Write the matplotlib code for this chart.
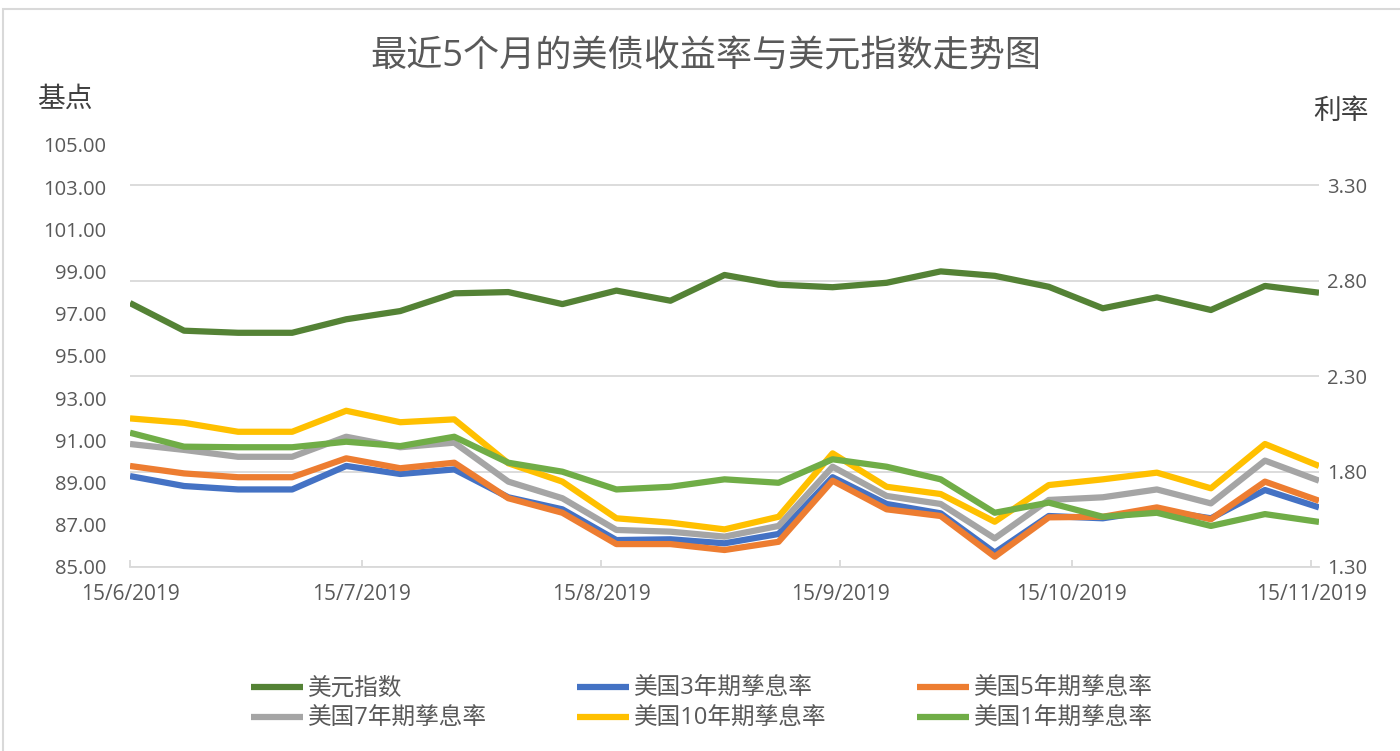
import matplotlib
matplotlib.use("Agg")
import matplotlib.pyplot as plt
import matplotlib.dates as mdates
from matplotlib.patches import Rectangle
from matplotlib.ticker import FuncFormatter
import pandas as pd

plt.rcParams["font.family"] = ["Open Sans", "Noto Sans CJK SC", "DejaVu Sans"]

# Data (weekly)
dates = pd.date_range("2019-06-15", periods=23, freq="7D")

usd_index = [97.51, 96.20, 96.10, 96.10, 96.74, 97.13, 97.97, 98.03, 97.46, 98.10,
             97.62, 98.84, 98.38, 98.26, 98.47, 99.01, 98.80, 98.28, 97.26, 97.78,
             97.18, 98.32, 98.00]
y3 = [1.776, 1.724, 1.706, 1.706, 1.829, 1.787, 1.811, 1.665, 1.602, 1.441,
      1.445, 1.424, 1.473, 1.770, 1.630, 1.581, 1.375, 1.567, 1.555, 1.598,
      1.555, 1.703, 1.612]
y5 = [1.829, 1.790, 1.770, 1.770, 1.869, 1.817, 1.846, 1.660, 1.584, 1.420,
      1.420, 1.389, 1.432, 1.752, 1.602, 1.567, 1.354, 1.560, 1.563, 1.612,
      1.550, 1.747, 1.647]
y7 = [1.944, 1.913, 1.877, 1.877, 1.982, 1.927, 1.951, 1.747, 1.660, 1.494,
      1.485, 1.459, 1.515, 1.825, 1.672, 1.630, 1.450, 1.651, 1.665, 1.706,
      1.633, 1.857, 1.752]
y10 = [2.078, 2.055, 2.008, 2.008, 2.118, 2.058, 2.073, 1.843, 1.747, 1.555,
       1.532, 1.497, 1.563, 1.895, 1.720, 1.682, 1.537, 1.729, 1.759, 1.794,
       1.712, 1.944, 1.829]
y1 = [2.003, 1.930, 1.927, 1.927, 1.956, 1.933, 1.982, 1.846, 1.799, 1.706,
      1.720, 1.759, 1.741, 1.864, 1.825, 1.759, 1.584, 1.637, 1.563, 1.584,
      1.515, 1.577, 1.536]

tick_dates = pd.to_datetime(["2019-06-15", "2019-07-15", "2019-08-15",
                             "2019-09-15", "2019-10-15", "2019-11-15"])

yield_series = [
    ("美国3年期孳息率", y3, "#4472C4"),
    ("美国5年期孳息率", y5, "#ED7D31"),
    ("美国7年期孳息率", y7, "#A5A5A5"),
    ("美国10年期孳息率", y10, "#FFC000"),
    ("美国1年期孳息率", y1, "#70AD47"),
]

text_color = "#595959"
grid_color = "#d9d9d9"
lw = 4.5

fig = plt.figure(figsize=(14, 7.51), dpi=100)
ax = fig.add_axes([130 / 1400, 184 / 751, 1189 / 1400, 422 / 751])
ax2 = ax.twinx()

# dollar index on the left axis
usd_line, = ax.plot(dates, usd_index, color="#548235", lw=lw,
                    solid_joinstyle="round", solid_capstyle="butt", label="美元指数")

handles = {}
for name, vals, col in yield_series:
    ln, = ax2.plot(dates, vals, color=col, lw=lw, solid_joinstyle="round",
                   solid_capstyle="butt", label=name)
    handles[name] = ln

# keep the dollar line above the secondary grid
ax.set_zorder(ax2.get_zorder() + 1)
ax.patch.set_visible(False)

ax.set_xlim(pd.Timestamp("2019-06-15"), pd.Timestamp("2019-11-16"))
ax.set_ylim(85, 105)
ax.set_yticks(range(85, 106, 2))
ax.yaxis.set_major_formatter(FuncFormatter(lambda v, p: f"{v:.2f}"))

ax2.set_ylim(1.30, 1.30 + 422 / 191)
ax2.set_yticks([1.30, 1.80, 2.30, 2.80, 3.30])
ax2.yaxis.set_major_formatter(FuncFormatter(lambda v, p: f"{v:.2f}"))
ax2.grid(axis="y", color=grid_color, lw=1.3)

ax.set_xticks(tick_dates)
ax.xaxis.set_major_formatter(
    FuncFormatter(lambda v, p: "{0.day}/{0.month}/{0.year}".format(mdates.num2date(v))))

for a in (ax, ax2):
    for s in a.spines.values():
        s.set_visible(False)
ax.spines["bottom"].set_visible(True)
ax.spines["bottom"].set_color(grid_color)
ax.spines["bottom"].set_linewidth(1.3)

ax.tick_params(axis="x", direction="in", length=5, color=grid_color, width=1.3,
               pad=12, labelsize=15, labelcolor=text_color)
ax.tick_params(axis="y", length=0, pad=17, labelsize=14.5, labelcolor=text_color)
ax2.tick_params(axis="y", length=0, pad=6, labelsize=14.5, labelcolor=text_color)
ax2.tick_params(axis="x", length=0)

# titles
fig.text(706 / 1400, 1 - 57 / 751, "最近5个月的美债收益率与美元指数走势图",
         ha="center", va="center", fontsize=26, color=text_color)
fig.text(65 / 1400, 1 - 100 / 751, "基点", ha="center", va="center",
         fontsize=20, color="#404040")
fig.text(1341 / 1400, 1 - 112 / 751, "利率", ha="center", va="center",
         fontsize=20, color="#404040")

# legend, rows filled left to right
order = [usd_line, handles["美国7年期孳息率"], handles["美国3年期孳息率"],
         handles["美国10年期孳息率"], handles["美国5年期孳息率"], handles["美国1年期孳息率"]]
leg = fig.legend(order, [h.get_label() for h in order], ncol=3,
                 loc="center", bbox_to_anchor=(702 / 1400, 1 - 704 / 751),
                 frameon=False, fontsize=17, handlelength=2.2, handletextpad=0.2,
                 columnspacing=3.85, labelspacing=0.25)
for t in leg.get_texts():
    t.set_color(text_color)

# chart frame
fig.patches.append(Rectangle((3 / 1400, -0.1), 1.2, 0.1 + 742 / 751,
                             transform=fig.transFigure, fill=False,
                             edgecolor=grid_color, lw=1.5))

fig.savefig("out.png", dpi=100)
